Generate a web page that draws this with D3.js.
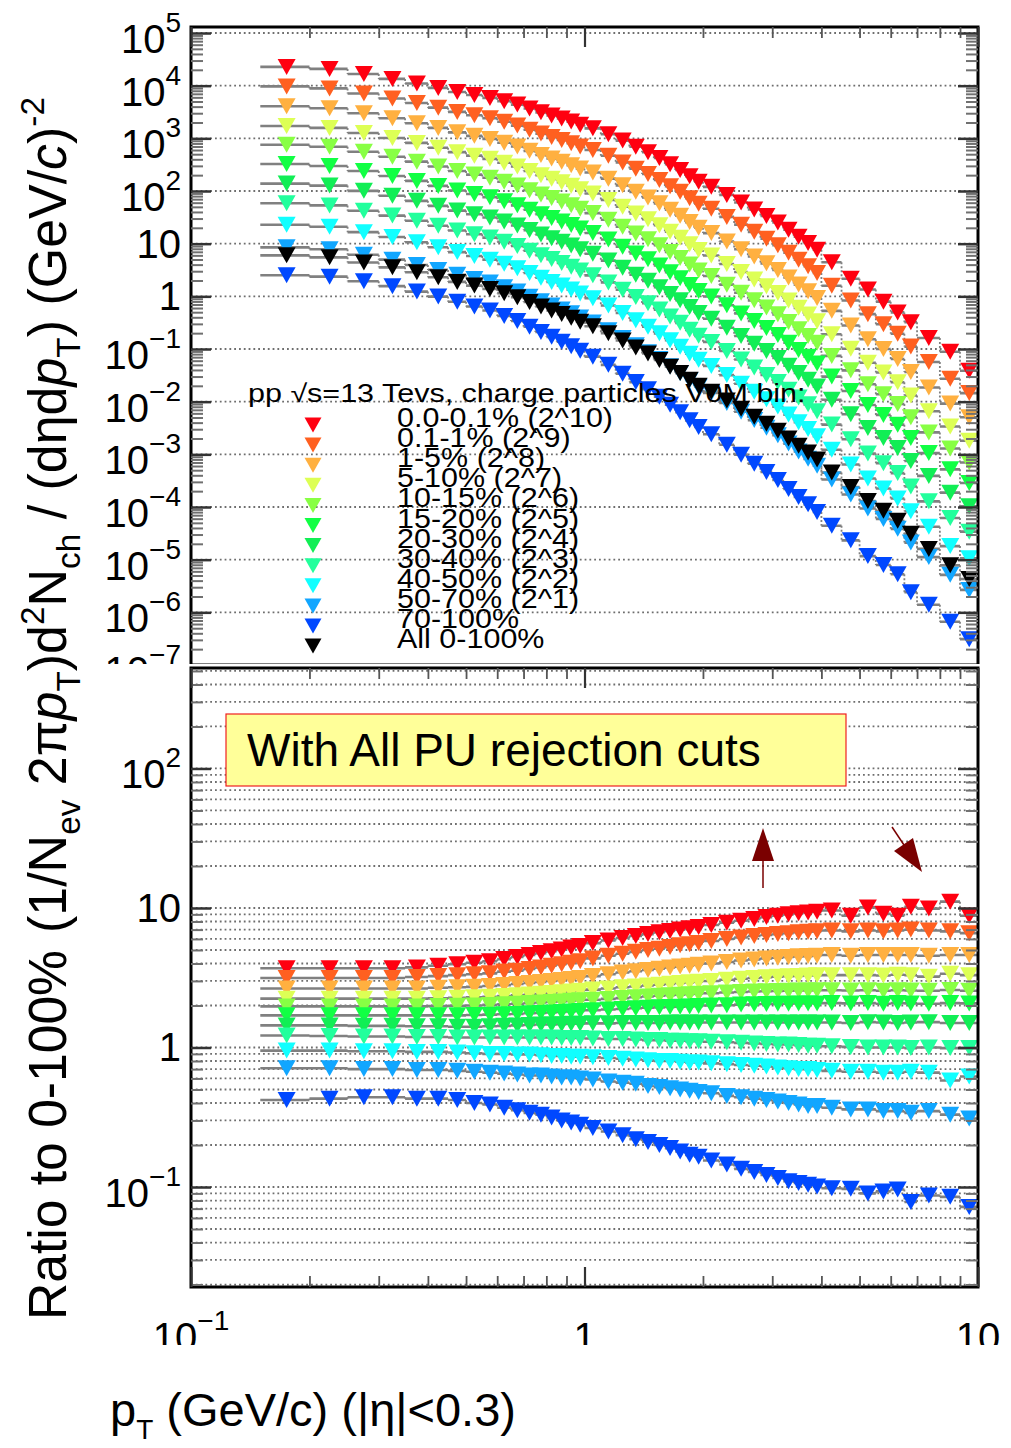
<!DOCTYPE html>
<html><head><meta charset="utf-8">
<script src="https://cdn.jsdelivr.net/npm/d3@7/dist/d3.min.js"></script>
<style>
html,body{margin:0;padding:0;background:#fff;}
svg{display:block;font-family:"Liberation Sans",Arial,Helvetica,sans-serif;}
</style></head><body>
<svg id="chart" width="1011" height="1448"></svg>
<script>
// ---------------- DATA ----------------
const ptEdges = [0.15,0.2,0.25,0.3,0.35,0.4,0.45,0.5,0.55,0.6,0.65,0.7,0.75,0.8,0.85,0.9,0.95,1.0,
  1.1,1.2,1.3,1.4,1.5,1.6,1.7,1.8,1.9,2.0,2.2,2.4,2.6,2.8,3.0,3.2,3.4,3.6,3.8,4.0,
  4.5,5.0,5.5,6.0,6.5,7.0,8.0,9.0,10.0];

const classLabels = ["0.0-0.1% (2^10)","0.1-1% (2^9)","1-5% (2^8)","5-10% (2^7)","10-15% (2^6)",
  "15-20% (2^5)","20-30% (2^4)","30-40% (2^3)","40-50% (2^2)","50-70% (2^1)","70-100%"];
const allLabel = "All 0-100%";
const scalePowers = [10,9,8,7,6,5,4,3,2,1,0];
const classColors = ["#ff0010","#ff6020","#ffb040","#ddff55","#88ff44","#11ff44","#11ee55","#22ff9c","#11ffff","#11a6ff","#0048ff"];

// inclusive 0-100% spectrum (1/Nev 2pi pT) d2N/(deta dpT)
const allSpectrum = [6.0,5.5,4.4,3.55,2.86,2.3,1.88,1.6,1.38,1.15,0.96,0.78,0.64,0.54,0.46,0.39,0.33,
  0.27,0.2,0.145,0.107,0.082,0.062,0.046,0.035,0.026,0.02,
  0.0155,0.0105,0.0073,0.0052,0.0038,0.0028,0.002,0.00145,0.00108,0.0008,
  0.00045,0.00024,0.00013,0.000085,0.000055,0.000031,
  0.000016,0.0000078,0.0000043];

// ratios to 0-100%
const ratio_0_01 = [3.7,3.7,3.7,3.7,3.75,3.85,3.95,4.05,4.15,4.3,4.45,4.6,4.75,4.9,5.05,5.2,5.35,
  5.6,5.85,6.1,6.3,6.5,6.7,6.85,7.0,7.15,7.3,
  7.55,7.85,8.1,8.35,8.6,8.8,9.0,9.15,9.3,9.4,
  9.6,8.8,10.1,9.1,8.8,10.2, 9.9,11.1,8.8];
const ratio_01_1 = [3.15,3.15,3.15,3.15,3.2,3.25,3.3,3.35,3.4,3.5,3.55,3.65,3.75,3.85,3.95,4.05,4.15,
  4.35,4.55,4.7,4.85,5.0,5.1,5.25,5.4,5.5,5.6,
  5.8,6.0,6.15,6.3,6.4,6.5,6.6,6.7,6.75,6.8,
  6.9,6.8,6.9,6.8,6.9,7.0, 6.9,6.8,6.6];
const ratio_1_5 = [2.65,2.65,2.65,2.65,2.65,2.68,2.7,2.72,2.76,2.8,2.85,2.9,2.95,3.0,3.05,3.1,3.15,
  3.25,3.35,3.45,3.52,3.6,3.67,3.74,3.8,3.86,3.92,
  4.0,4.1,4.2,4.28,4.35,4.4,4.45,4.5,4.52,4.55,
  4.6,4.55,4.6,4.6,4.6,4.6, 4.55,4.6,4.6];
const ratio_5_10 = [2.24,2.24,2.24,2.24,2.24,2.25,2.27,2.29,2.31,2.34,2.37,2.4,2.43,2.46,2.49,2.52,2.55,
  2.6,2.65,2.7,2.74,2.78,2.82,2.86,2.9,2.93,2.96,
  3.0,3.06,3.11,3.15,3.19,3.22,3.24,3.26,3.28,3.29,
  3.3,3.3,3.3,3.28,3.32,3.3, 3.22,3.38,3.3];
const ratio_10_15 = [1.97,1.97,1.97,1.97,1.97,1.98,1.99,2.0,2.02,2.04,2.06,2.08,2.1,2.12,2.14,2.16,2.18,
  2.2,2.23,2.26,2.29,2.32,2.35,2.37,2.39,2.41,2.43,
  2.45,2.48,2.5,2.52,2.53,2.54,2.55,2.56,2.56,2.57,
  2.57,2.56,2.57,2.55,2.57,2.56, 2.55,2.58,2.55];
const ratio_15_20 = [1.7,1.7,1.7,1.7,1.7,1.7,1.7,1.71,1.72,1.73,1.74,1.76,1.77,1.78,1.8,1.81,1.83,
  1.85,1.87,1.89,1.91,1.93,1.94,1.95,1.96,1.97,1.98,
  2.0,2.01,2.03,2.04,2.05,2.06,2.06,2.07,2.07,2.07,
  2.08,2.07,2.08,2.06,2.08,2.07, 2.06,2.08,2.07];
const ratio_20_30 = [1.44,1.44,1.43,1.43,1.42,1.42,1.41,1.41,1.42,1.43,1.44,1.45,1.46,1.46,1.47,1.48,1.48,
  1.49,1.49,1.5,1.5,1.5,1.5,1.51,1.51,1.51,1.51,
  1.51,1.51,1.51,1.51,1.51,1.51,1.51,1.51,1.51,1.51,
  1.51,1.5,1.52,1.51,1.5,1.51, 1.52,1.5,1.5];
const ratio_30_40 = [1.22,1.21,1.2,1.2,1.19,1.19,1.18,1.18,1.18,1.18,1.18,1.18,1.18,1.18,1.17,1.17,1.17,
  1.16,1.15,1.15,1.14,1.13,1.13,1.12,1.12,1.11,1.11,
  1.1,1.09,1.08,1.07,1.06,1.05,1.05,1.04,1.03,1.03,
  1.02,1.01,1.0,1.0,1.0,0.99, 1.0,0.99,0.99];
const ratio_40_50 = [0.95,0.95,0.94,0.94,0.93,0.93,0.92,0.91,0.9,0.9,0.89,0.89,0.88,0.87,0.87,0.86,0.86,
  0.85,0.84,0.83,0.82,0.81,0.8,0.8,0.79,0.78,0.78,
  0.77,0.76,0.75,0.74,0.73,0.72,0.71,0.7,0.7,0.69,
  0.68,0.67,0.67,0.66,0.66,0.67, 0.66,0.58,0.62];
const ratio_50_70 = [0.71,0.71,0.7,0.7,0.69,0.69,0.68,0.67,0.66,0.65,0.64,0.63,0.63,0.62,0.61,0.61,0.6,
  0.59,0.57,0.56,0.55,0.53,0.52,0.51,0.5,0.49,0.48,
  0.47,0.45,0.44,0.43,0.42,0.41,0.4,0.39,0.38,0.38,
  0.37,0.36,0.36,0.35,0.35,0.34, 0.35,0.33,0.31];
const ratio_70_100 = [0.42,0.43,0.44,0.44,0.43,0.43,0.42,0.40,0.39,0.37,0.355,0.34,0.33,0.315,0.30,0.29,0.28,
  0.265,0.25,0.235,0.22,0.21,0.2,0.19,0.18,0.17,0.165,
  0.155,0.145,0.135,0.128,0.122,0.116,0.11,0.107,0.104,0.101,
  0.098,0.097,0.09,0.093,0.096,0.078, 0.087,0.085,0.072];

const ratios = [ratio_0_01,ratio_01_1,ratio_1_5,ratio_5_10,ratio_10_15,ratio_15_20,ratio_20_30,
  ratio_30_40,ratio_40_50,ratio_50_70,ratio_70_100];

const topMajorExps = [5,4,3,2,1,0,-1,-2,-3,-4,-5,-6,-7];
const botMajorExps = [2,1,0,-1];
const xMajorExps = [-1,0,1];

const legendHeader = "pp \u221As=13 Tevs, charge particles V0M bin:";
const boxText = "With All PU rejection cuts";

(function () {
// ---------------- LAYOUT ----------------
const W = 1011, H = 1448;
const X0 = 191, X1 = 978;
const TOP_Y0 = 27, TOP_Y1 = 665;
const BOT_Y0 = 668, BOT_Y1 = 1287;

const x = d3.scaleLog().domain([0.1, 10]).range([X0, X1]);
const yTop = d3.scaleLog().domain([1e-7, Math.pow(10, 5.114)]).range([TOP_Y1, TOP_Y0]);
const yBot = d3.scaleLog().domain([0.0192, 525]).range([BOT_Y1, BOT_Y0]);

const svg = d3.select("#chart");
svg.append("rect").attr("width", W).attr("height", H).attr("fill", "#fff");

const nb = ptEdges.length - 1;
const centers = d3.range(nb).map(j => (ptEdges[j] + ptEdges[j + 1]) / 2);

function minorValues(lo, hi) {
  const out = [];
  for (let e = -8; e <= 6; e++) for (let m = 2; m <= 9; m++) {
    const v = m * Math.pow(10, e);
    if (v > lo && v < hi) out.push(v);
  }
  return out;
}
function allLogValues(lo, hi) {
  const out = [];
  for (let e = -8; e <= 6; e++) for (let m = 1; m <= 9; m++) {
    const v = m * Math.pow(10, e);
    if (v >= lo * 1.0001 && v <= hi) out.push(v);
  }
  return out;
}

function grid(g, y, vals) {
  g.selectAll(null).data(vals).join("line")
    .attr("x1", X0).attr("x2", X1)
    .attr("y1", d => y(d)).attr("y2", d => y(d))
    .attr("stroke", "#6e6e6e").attr("stroke-width", 1.8).attr("stroke-dasharray", "1.8,3");
}

function styleAxis(g, color, w) {
  g.select(".domain").remove();
  g.selectAll(".tick line").attr("stroke", color).attr("stroke-width", w);
}

function yAxes(g, y, majors, minors) {
  const a1 = g.append("g").attr("transform", `translate(${X0},0)`)
    .call(d3.axisLeft(y).tickValues(minors).tickSize(-12).tickFormat(""));
  styleAxis(a1, "#707070", 2);
  const a2 = g.append("g").attr("transform", `translate(${X0},0)`)
    .call(d3.axisLeft(y).tickValues(majors).tickSize(-20).tickFormat(""));
  styleAxis(a2, "#333", 2.5);
  const a3 = g.append("g").attr("transform", `translate(${X1},0)`)
    .call(d3.axisRight(y).tickValues(minors).tickSize(-12).tickFormat(""));
  styleAxis(a3, "#707070", 2);
  const a4 = g.append("g").attr("transform", `translate(${X1},0)`)
    .call(d3.axisRight(y).tickValues(majors).tickSize(-20).tickFormat(""));
  styleAxis(a4, "#333", 2.5);
}

function xAxis(g, ypos, dirDown) {
  const mk = dirDown ? d3.axisTop : d3.axisBottom;
  const a1 = g.append("g").attr("transform", `translate(0,${ypos})`)
    .call(mk(x).tickValues(minorValues(0.1, 10)).tickSize(-11).tickFormat(""));
  styleAxis(a1, "#555", 1.8);
  const a2 = g.append("g").attr("transform", `translate(0,${ypos})`)
    .call(mk(x).tickValues([0.1, 1, 10]).tickSize(-20).tickFormat(""));
  styleAxis(a2, "#333", 2.2);
}

function powLabel(t, e, supSize, rise) {
  if (e === 0) { t.append("tspan").text("1"); return; }
  if (e === 1) { t.append("tspan").text("10"); return; }
  t.append("tspan").text("10");
  t.append("tspan").attr("font-size", supSize).attr("dy", -rise)
    .text(e < 0 ? "\u2212" + (-e) : String(e));
}

function yLabels(g, y, exps) {
  exps.forEach(e => {
    const ty = y(Math.pow(10, e));
    const plain = (e === 0 || e === 1);
    const t = g.append("text").attr("x", 181).attr("y", ty + (plain ? 14 : 20))
      .attr("text-anchor", "end").attr("font-size", 40).attr("fill", "#000");
    powLabel(t, e, 28, 21);
  });
}

const tri = (w, h) => `M${-w/2},${-h/2}L${w/2},${-h/2}L0,${h/2}Z`;
const MW = 18, MH = 16;

function drawSeries(g, y, valsList, colors) {
  valsList.forEach(vals => {
    let dh = "", dv = "";
    vals.forEach((v, j) => {
      dh += `M${x(ptEdges[j])},${y(v)}H${x(ptEdges[j + 1])}`;
      if (j < vals.length - 1) dv += `M${x(ptEdges[j + 1])},${y(v)}V${y(vals[j + 1])}`;
    });
    g.append("path").attr("d", dh).attr("fill", "none").attr("stroke", "#808080").attr("stroke-width", 2.6);
    g.append("path").attr("d", dv).attr("fill", "none").attr("stroke", "#808080").attr("stroke-width", 1.8).attr("stroke-dasharray", "2,2");
  });
  valsList.forEach((vals, i) => {
    g.append("g").selectAll("path").data(vals).join("path")
      .attr("d", tri(MW, MH))
      .attr("transform", (d, j) => `translate(${x(centers[j])},${y(d)})`)
      .attr("fill", colors[i]);
  });
}

// ---------------- TOP PANEL ----------------
const topG = svg.append("g");
grid(topG, yTop, topMajorExps.filter(e => e > -7).map(e => Math.pow(10, e)));

const topVals = ratios.map((r, i) => r.map((v, j) => v * allSpectrum[j] * Math.pow(2, scalePowers[i])));
topVals.push(allSpectrum);
drawSeries(topG, yTop, topVals, classColors.concat(["#000"]));

const leg = topG.append("g");
leg.append("text").attr("transform", "translate(248,402) scale(1,0.82)")
  .attr("font-size", 30.5).attr("fill", "#000").text(legendHeader);
const legLabels = classLabels.concat([allLabel]);
const legColors = classColors.concat(["#000"]);
legLabels.forEach((lab, i) => {
  const yy = 425 + 20.1 * i;
  leg.append("path").attr("d", tri(17, 15)).attr("transform", `translate(313,${yy})`).attr("fill", legColors[i]);
  leg.append("text").attr("transform", `translate(397,${yy + 2}) scale(1,0.88)`)
    .attr("font-size", 30.5).attr("fill", "#000").text(lab);
});

topG.append("rect").attr("x", X0).attr("y", TOP_Y0).attr("width", X1 - X0).attr("height", TOP_Y1 - TOP_Y0)
  .attr("fill", "none").attr("stroke", "#000").attr("stroke-width", 3);
yAxes(topG, yTop, topMajorExps.map(e => Math.pow(10, e)), minorValues(1e-7, Math.pow(10, 5.114)));
xAxis(topG, TOP_Y0, true);
yLabels(topG, yTop, topMajorExps);

// ---------------- BOTTOM PANEL ----------------
svg.append("rect").attr("x", 0).attr("y", 664).attr("width", W).attr("height", H - 664).attr("fill", "#fff");
const botG = svg.append("g");
grid(botG, yBot, allLogValues(0.0192, 525));

botG.append("rect").attr("x", 226).attr("y", 714).attr("width", 620).attr("height", 72)
  .attr("fill", "#ffff99").attr("stroke", "#ee2020").attr("stroke-width", 1.2);
botG.append("text").attr("x", 247).attr("y", 766).attr("font-size", 46).attr("fill", "#000").text(boxText);

drawSeries(botG, yBot, ratios, classColors);

botG.append("rect").attr("x", X0).attr("y", BOT_Y0).attr("width", X1 - X0).attr("height", BOT_Y1 - BOT_Y0)
  .attr("fill", "none").attr("stroke", "#000").attr("stroke-width", 3);
yAxes(botG, yBot, botMajorExps.map(e => Math.pow(10, e)), minorValues(0.0192, 525));
xAxis(botG, BOT_Y1, false);
xAxis(botG, BOT_Y0, true);
yLabels(botG, yBot, botMajorExps);

svg.append("clipPath").attr("id", "xlabclip").append("rect")
  .attr("x", 0).attr("y", 1295).attr("width", W).attr("height", 50);
const xl = svg.append("g").attr("clip-path", "url(#xlabclip)");
xMajorExps.forEach(e => {
  const t = xl.append("text").attr("x", x(Math.pow(10, e))).attr("y", 1351)
    .attr("text-anchor", "middle").attr("font-size", 40).attr("fill", "#000");
  powLabel(t, e, 28, 21);
});

const xt = svg.append("text").attr("x", 110).attr("y", 1426).attr("font-size", 47).attr("fill", "#000");
xt.append("tspan").text("p");
xt.append("tspan").attr("font-size", 28).attr("dy", 13).text("T");
xt.append("tspan").attr("dy", -13).text(" (GeV/c) (|\u03B7|<0.3)");

const tt = svg.append("text").attr("transform", "translate(66,97) rotate(-90)")
  .attr("text-anchor", "end").attr("font-size", 53).attr("fill", "#000")
  .attr("textLength", 836).attr("lengthAdjust", "spacingAndGlyphs");
tt.append("tspan").text("(1/N");
tt.append("tspan").attr("font-size", 34).attr("dy", 14).text("ev");
tt.append("tspan").attr("dy", -14).text(" 2\u03C0");
tt.append("tspan").attr("font-style", "italic").text("p");
tt.append("tspan").attr("font-size", 34).attr("dy", 14).text("T");
tt.append("tspan").attr("dy", -14).text(")d");
tt.append("tspan").attr("font-size", 34).attr("dy", -22).text("2");
tt.append("tspan").attr("dy", 22).text("N");
tt.append("tspan").attr("font-size", 34).attr("dy", 14).text("ch");
tt.append("tspan").attr("dy", -14).text(" / (d\u03B7d");
tt.append("tspan").attr("font-style", "italic").text("p");
tt.append("tspan").attr("font-size", 34).attr("dy", 14).text("T");
tt.append("tspan").attr("dy", -14).text(") (GeV/");
tt.append("tspan").attr("font-style", "italic").text("c");
tt.append("tspan").text(")");
tt.append("tspan").attr("font-size", 34).attr("dy", -22).text("-2");

svg.append("text").attr("transform", "translate(66,1320) rotate(-90)")
  .attr("font-size", 53).attr("fill", "#000")
  .attr("textLength", 370).attr("lengthAdjust", "spacingAndGlyphs")
  .text("Ratio to 0-100%");

const AR = "#7a0000";
svg.append("line").attr("x1", 763).attr("y1", 888).attr("x2", 763).attr("y2", 858)
  .attr("stroke", AR).attr("stroke-width", 1.5);
svg.append("path").attr("d", "M763,828L752,861L774,861Z").attr("fill", AR);
svg.append("line").attr("x1", 892).attr("y1", 827).attr("x2", 906).attr("y2", 848)
  .attr("stroke", AR).attr("stroke-width", 1.5);
svg.append("path").attr("d", "M922,872L894,851L913,838Z").attr("fill", AR);
})();
</script>
</body></html>
